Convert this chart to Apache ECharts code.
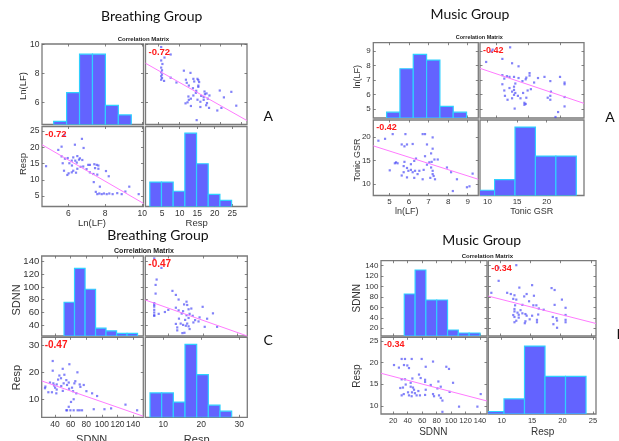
<!DOCTYPE html>
<html>
<head>
<meta charset="utf-8">
<script src="https://cdn.jsdelivr.net/npm/echarts@6/dist/echarts.min.js"></script>
<style>
  html, body { margin: 0; padding: 0; background: #fff; }
  #chart { width: 619px; height: 441px; }
</style>
</head>
<body>
<div id="chart"></div>
<script>
// ---- values ----

// Breathing group (A): Ln(LF) against Resp, one entry per subject
const baLnLF = [5.79, 6.74, 5.64, 6.36, 5.46, 6.83, 4.80, 5.64, 5.82, 5.97, 6.19, 6.27, 6.38, 6.49, 6.58,
  6.63, 6.76, 5.70, 6.06, 6.20, 6.46, 6.67, 6.81, 5.77, 6.02, 6.19, 6.27, 6.42, 5.95, 6.49, 7.08, 7.17,
  7.41, 7.54, 7.63, 7.45, 7.63, 8.04, 8.19, 6.99, 7.17, 7.36, 7.57, 7.38, 7.71, 7.49, 7.57, 7.68, 7.81,
  7.93, 8.08, 8.22, 8.40, 8.65, 8.89, 9.09, 9.30, 9.81];
const baResp = [23.8, 22.6, 20.2, 20.8, 19.2, 19.8, 14.2, 17.2, 16.5, 16.7, 15.9, 16.9, 15.9, 17.3, 16.2,
  16.6, 16.1, 15.1, 15.1, 14.4, 15.3, 14.0, 14.1, 12.8, 12.0, 12.3, 12.8, 12.2, 11.5, 13.4, 14.6, 14.6,
  14.8, 14.6, 14.4, 13.6, 13.4, 12.7, 11.1, 13.3, 12.3, 11.8, 11.6, 9.3, 7.9, 6.3, 5.6, 5.8, 5.6,
  5.8, 5.6, 5.8, 5.6, 5.9, 5.6, 6.4, 7.9, 5.6];
const baLnLFBins = [5.21, 5.91, 6.61, 7.31, 8.01, 8.71, 9.41];
const baLnLFCounts = [1, 10, 22, 22, 6, 3];
const baRespBins = [1.5, 4.83, 8.16, 11.49, 14.82, 18.15, 21.48, 24.81];
const baRespCounts = [8, 8, 5, 24, 14, 4, 2];
const baFitLower = [[4.58, 20.8], [10.07, 2.75]];
const baFitUpper = [[1.8, 8.7], [26.4, 4.77]];
const baLnLFTicks = [6, 8, 10];
const baRespTicks = [5, 10, 15, 20, 25];

// Music group (A): ln(LF) against Tonic GSR
const maLnLF = [4.44, 4.78, 5.17, 5.82, 6.70, 6.82, 7.21, 5.77, 5.63, 5.90, 6.19, 6.92, 7.21, 7.13, 6.82,
  6.36, 6.27, 5.34, 5.28, 5.42, 5.77, 5.02, 5.73, 5.90, 5.97, 6.10, 5.73, 6.19, 6.31, 6.44, 6.53, 6.75,
  6.92, 7.04, 7.16, 7.30, 7.47, 7.13, 7.21, 7.21, 7.26, 7.09, 7.33, 5.90, 5.63, 6.27, 6.70, 7.94, 8.15,
  8.45, 9.25, 8.24, 8.96, 9.09, 6.10];
const maGSR = [19.2, 19.6, 20.6, 20.6, 20.6, 20.6, 19.9, 18.0, 18.4, 18.4, 18.5, 18.4, 17.5, 16.5, 15.9,
  15.4, 14.9, 14.6, 14.4, 14.4, 14.7, 12.9, 13.8, 13.4, 12.8, 13.0, 12.5, 12.5, 12.8, 12.1, 12.8, 13.0,
  14.1, 14.6, 14.7, 15.2, 15.2, 13.5, 12.8, 12.1, 11.7, 11.3, 11.0, 11.4, 11.8, 11.3, 11.0, 13.5, 12.5,
  11.0, 12.2, 8.5, 9.3, 9.5, 14.2];
const maLnLFBins = [4.86, 5.54, 6.22, 6.90, 7.58, 8.26, 8.94];
const maLnLFCounts = [2, 17, 22, 20, 4, 2];
const maGSRBins = [7.75, 11.2, 14.65, 18.1, 21.55, 25.0];
const maGSRCounts = [2, 6, 26, 15, 15];
const maFitLower = [[4.18, 18.1], [9.54, 11.0]];
const maFitUpper = [[7.55, 7.80], [23.6, 5.38]];
const maLnLFTicks = [5, 6, 7, 8, 9];
const maGSRTicks = [10, 15, 20];

// Breathing group (C): SDNN against Resp
const bcSDNN = [37.1, 37.1, 49.9, 58.4, 45.6, 68.7, 27.7, 33.6, 37.9, 38.8, 40.1, 42.2, 36.1, 41.7, 47.7,
  51.1, 54.5, 55.4, 57.6, 61.8, 63.1, 64.8, 67.3, 71.6, 72.5, 76.8, 80.2, 87.5, 93.9, 42.2, 31.5, 27.2,
  63.9, 60.5, 57.6, 54.5, 55.4, 59.7, 63.9, 69.0, 71.6, 74.6, 89.6, 103.3, 111.8, 130.2, 145.1, 44.0,
  50.0, 58.0, 66.0, 52.0, 48.0];
const bcResp = [24.1, 20.5, 21.2, 22.9, 18.7, 19.9, 14.6, 16.1, 15.8, 15.0, 14.2, 15.4, 12.5, 12.1, 17.7,
  15.8, 17.0, 15.2, 16.1, 14.2, 12.9, 15.8, 12.1, 15.4, 14.5, 15.2, 12.9, 12.1, 11.1, 13.5, 12.5, 14.0,
  9.9, 8.9, 7.1, 5.8, 5.8, 5.8, 5.8, 5.8, 5.8, 5.8, 6.2, 6.2, 6.5, 7.9, 5.8, 17.2,
  13.0, 13.8, 16.6, 19.0, 14.8];
const bcSDNNBins = [51.6, 65.0, 78.5, 91.9, 105.3, 118.8, 132.2, 145.6];
const bcSDNNCounts = [13, 26, 18, 3, 2, 1, 1];
const bcRespBins = [6.5, 9.57, 12.64, 15.71, 18.78, 21.85, 24.92, 27.99];
const bcRespCounts = [8, 8, 5, 24, 14, 4, 2];
const bcFitLower = [[23, 16.7], [153, 3.6]];
const bcFitUpper = [[3.2, 79.5], [32.9, 22.6]];
const bcSDNNTicks = [40, 60, 80, 100, 120, 140];
const bcRespTicks = [10, 20, 30];

// Music group (D): SDNN against Resp
const mcSDNN = [21.0, 31.6, 36.2, 45.5, 59.3, 75.0, 27.8, 34.8, 39.4, 41.7, 64.9, 93.4, 97.1, 55.6, 57.9,
  31.6, 36.2, 46.4, 64.0, 64.0, 82.4, 102.7, 44.1, 37.2, 44.1, 47.3, 33.4, 48.7, 54.7, 64.9, 71.8, 81.1,
  85.7, 40.4, 45.9, 34.5, 41.7, 31.6, 52.3, 56.9, 64.0, 75.0, 83.3, 85.7, 88.0, 45.4, 98.0, 111.0,
  136.4, 141.0, 88.0, 76.4, 50.0, 29.7];
const mcResp = [19.4, 20.8, 20.8, 20.8, 20.8, 20.2, 18.8, 19.4, 19.3, 18.7, 19.0, 19.0, 18.5, 17.2, 16.4,
  16.1, 16.1, 16.3, 16.0, 15.5, 15.6, 15.3, 15.3, 14.9, 14.4, 14.2, 14.2, 13.7, 13.4, 13.7, 14.8, 14.0,
  14.4, 13.1, 13.1, 12.7, 12.4, 12.4, 12.4, 12.4, 12.5, 12.7, 12.4, 11.8, 11.2, 12.2, 13.2, 9.8,
  9.8, 12.7, 8.6, 12.2, 12.9, 14.1];
const mcSDNNBins = [35.2, 50.2, 65.1, 80.1, 95.1, 110.0, 125.0, 140.0];
const mcSDNNCounts = [14, 22, 12, 12, 2, 1, 1];
const mcRespBins = [7.01, 10.38, 13.75, 17.12, 20.49, 23.86];
const mcRespCounts = [1, 6, 27, 15, 15];
const mcFitLower = [[3, 17.5], [149.7, 11.1]];
const mcFitUpper = [[8.1, 81.7], [25.8, 29.2]];
const mcSDNNTicks = [20, 40, 60, 80, 100, 120, 140];
const mcRespTicks = [10, 15, 20, 25];

// ---- the four matrices ----
const matrices = [
  {
    title: 'Breathing Group', tag: 'A', names: ['Ln(LF)', 'Resp'], r: '-0.72',
    v1: baLnLF, v2: baResp, ticks1: baLnLFTicks, ticks2: baRespTicks, histTicks2: baRespTicks,
    range1x: [4.58, 10.07], range1y: [4.5, 10.02], range2: [1.8, 26.4], histRange2: [0.27, 29.2],
    bins1: baLnLFBins, counts1: baLnLFCounts, max1: 25.2,
    bins2: baRespBins, counts2: baRespCounts, max2: 26.2,
    fitLower: baFitLower, fitUpper: baFitUpper,
    L: {
      cols: [[42, 143.5], [145.5, 247]], rows: [[44, 124.5], [126.5, 206.5]],
      tickX: 8.5, tickY: 8.5, corr: 9.5, name: 9.5, cm: 6, titleXY: [151.7, 16.7], cmXY: [143.3, 39.3],
      xNames: [[92, 223.5], [196.7, 223.5]], yNames: [[23, 86], [23, 164]], tagXY: [268.3, 116], tagAlign: 'center'
    }
  },
  {
    title: 'Music Group', tag: 'A', names: ['ln(LF)', 'Tonic GSR'], r: '-0.42',
    v1: maLnLF, v2: maGSR, ticks1: maLnLFTicks, ticks2: maGSRTicks, histTicks2: maGSRTicks,
    range1x: [4.18, 9.54], range1y: [4.37, 9.57], range2: [7.55, 23.6], histRange2: [8.74, 26.3],
    bins1: maLnLFBins, counts1: maLnLFCounts, max1: 26.0,
    bins2: maGSRBins, counts2: maGSRCounts, max2: 28.7,
    fitLower: maFitLower, fitUpper: maFitUpper,
    L: {
      cols: [[373.3, 478.3], [480, 584]], rows: [[42.7, 118], [120, 195.5]],
      tickX: 8, tickY: 8, corr: 9, name: 9, cm: 5.5, titleXY: [470, 14], cmXY: [479.3, 37.3],
      xNames: [[406.7, 212], [531.7, 212]], yNames: [[357.5, 76.7], [357.5, 160]], tagXY: [610, 117], tagAlign: 'center'
    }
  },
  {
    title: 'Breathing Group', tag: 'C', names: ['SDNN', 'Resp'], r: '-0.47',
    v1: bcSDNN, v2: bcResp, ticks1: bcSDNNTicks, ticks2: bcRespTicks, histTicks2: bcRespTicks,
    range1x: [23, 153], range1y: [22.6, 149], range2: [3.2, 32.9], histRange2: [5.26, 32.1],
    bins1: bcSDNNBins, counts1: bcSDNNCounts, max1: 30.8,
    bins2: bcRespBins, counts2: bcRespCounts, max2: 26.3,
    fitLower: bcFitLower, fitUpper: bcFitUpper,
    L: {
      cols: [[41.7, 143.3], [145.3, 247.3]], rows: [[256, 336], [337.3, 417.3]],
      tickX: 8.5, tickY: 9.5, corr: 10, name: 11, cm: 7, titleXY: [158, 235], cmXY: [144, 250.7],
      xNames: [[91.7, 440], [196.7, 440]], yNames: [[16.5, 300], [16.5, 377.7]], tagXY: [268.3, 340.7], tagAlign: 'center'
    }
  },
  {
    title: 'Music Group', tag: 'D', names: ['SDNN', 'Resp'], r: '-0.34',
    v1: mcSDNN, v2: mcResp, ticks1: mcSDNNTicks, ticks2: mcRespTicks, histTicks2: mcRespTicks,
    range1x: [3, 149.7], range1y: [5.2, 149.6], range2: [8.1, 25.8], histRange2: [7.8, 25.5],
    bins1: mcSDNNBins, counts1: mcSDNNCounts, max1: 25.1,
    bins2: mcRespBins, counts2: mcRespCounts, max2: 30.5,
    fitLower: mcFitLower, fitUpper: mcFitUpper,
    L: {
      cols: [[381, 487], [488.3, 596]], rows: [[260.7, 336], [337.3, 414]],
      tickX: 7.5, tickY: 8, corr: 9, name: 10, cm: 6, titleXY: [481.7, 240], cmXY: [487.3, 256],
      xNames: [[433.3, 432], [542.7, 432]], yNames: [[357.5, 298.3], [357.5, 376]], tagXY: [616.5, 334], tagAlign: 'left'
    }
  }
];

const option = {
  animation: false,
  backgroundColor: '#fff',
  grid: [], xAxis: [], yAxis: [], series: [],
  graphic: { elements: [] }
};

const TEXT = '#333';
const FRAME = '#7a7a7a';
const BAR = '#6363ff';
const BAR_EDGE = '#2fd0ff';
const DOT = 'rgba(60,60,245,0.8)';
const FIT = '#ff7bff';

function valueAxis(gi, range, ticks, showLabel, position, font) {
  return {
    type: 'value', gridIndex: gi, position: position, min: range[0], max: range[1],
    axisLine: { show: false }, splitLine: { show: false },
    axisTick: { show: true, inside: true, length: 2.5, customValues: ticks, lineStyle: { color: '#666', width: 0.8 } },
    axisLabel: {
      show: showLabel, customValues: ticks, fontSize: font, color: TEXT, margin: 2.5,
      fontFamily: 'Liberation Sans', hideOverlap: false
    }
  };
}

function addX(obj) { option.xAxis.push(obj); return option.xAxis.length - 1; }
function addY(obj) { option.yAxis.push(obj); return option.yAxis.length - 1; }

function text(x, y, s, size, extra) {
  extra = extra || {};
  return {
    type: 'text', x: x, y: y, rotation: extra.rot || 0, silent: true, z: 100,
    style: {
      text: s, fontSize: size, fontFamily: extra.family || 'Liberation Sans',
      fontWeight: extra.weight || 'normal', fill: extra.color || TEXT,
      textAlign: extra.align || 'center', textVerticalAlign: extra.valign || 'middle'
    }
  };
}

function histSeries(xi, yi, bins, counts) {
  return {
    type: 'custom', xAxisIndex: xi, yAxisIndex: yi, clip: true, silent: true,
    data: counts.map((c, i) => [bins[i], bins[i + 1], c]),
    encode: { x: [0, 1], y: 2 },
    renderItem: function (params, api) {
      const p0 = api.coord([api.value(0), 0]);
      const p1 = api.coord([api.value(1), api.value(2)]);
      return {
        type: 'rect',
        shape: { x: p0[0], y: p1[1], width: p1[0] - p0[0], height: p0[1] - p1[1] },
        style: { fill: BAR, stroke: BAR_EDGE, lineWidth: 1.2 }
      };
    }
  };
}

function addMatrix(m) {
  const L = m.L;
  const base = option.grid.length;
  // panel order: top-left, top-right, bottom-left, bottom-right
  [[0, 0], [0, 1], [1, 0], [1, 1]].forEach(function (rc) {
    const c = L.cols[rc[1]], r = L.rows[rc[0]];
    option.grid.push({
      left: c[0], top: r[0], width: c[1] - c[0], height: r[1] - r[0],
      show: true, borderColor: FRAME, borderWidth: 1.3, backgroundColor: '#fff'
    });
  });
  const fx = L.tickX, fy = L.tickY;

  // top-left: histogram of the first variable
  let gi = base;
  let xi = addX(valueAxis(gi, m.range1x, m.ticks1, false, 'bottom', fx));
  addX(valueAxis(gi, m.range1x, m.ticks1, false, 'top', fx));
  addY(valueAxis(gi, m.range1y, m.ticks1, true, 'left', fy));
  addY(valueAxis(gi, m.range1y, m.ticks1, false, 'right', fy));
  let yc = addY({ type: 'value', gridIndex: gi, min: 0, max: m.max1, show: false });
  option.series.push(histSeries(xi, yc, m.bins1, m.counts1));

  // top-right: first variable against the second
  gi = base + 1;
  xi = addX(valueAxis(gi, m.range2, m.ticks2, false, 'bottom', fx));
  addX(valueAxis(gi, m.range2, m.ticks2, false, 'top', fx));
  let yi = addY(valueAxis(gi, m.range1y, m.ticks1, false, 'left', fy));
  addY(valueAxis(gi, m.range1y, m.ticks1, false, 'right', fy));
  option.series.push({
    type: 'scatter', xAxisIndex: xi, yAxisIndex: yi, symbol: 'rect', symbolSize: 2.2, silent: true,
    itemStyle: { color: DOT }, data: m.v1.map((v, i) => [m.v2[i], v])
  });
  option.series.push({
    type: 'line', xAxisIndex: xi, yAxisIndex: yi, symbol: 'none', silent: true, clip: true,
    lineStyle: { color: FIT, width: 1 }, data: m.fitUpper
  });

  // bottom-left: second variable against the first
  gi = base + 2;
  xi = addX(valueAxis(gi, m.range1x, m.ticks1, true, 'bottom', fx));
  addX(valueAxis(gi, m.range1x, m.ticks1, false, 'top', fx));
  yi = addY(valueAxis(gi, m.range2, m.ticks2, true, 'left', fy));
  addY(valueAxis(gi, m.range2, m.ticks2, false, 'right', fy));
  option.series.push({
    type: 'scatter', xAxisIndex: xi, yAxisIndex: yi, symbol: 'rect', symbolSize: 2.2, silent: true,
    itemStyle: { color: DOT }, data: m.v1.map((v, i) => [v, m.v2[i]])
  });
  option.series.push({
    type: 'line', xAxisIndex: xi, yAxisIndex: yi, symbol: 'none', silent: true, clip: true,
    lineStyle: { color: FIT, width: 1 }, data: m.fitLower
  });

  // bottom-right: histogram of the second variable
  gi = base + 3;
  xi = addX(valueAxis(gi, m.histRange2, m.histTicks2, true, 'bottom', fx));
  addX(valueAxis(gi, m.histRange2, m.histTicks2, false, 'top', fx));
  yc = addY({ type: 'value', gridIndex: gi, min: 0, max: m.max2, show: false });
  option.series.push(histSeries(xi, yc, m.bins2, m.counts2));

  // texts
  const g = option.graphic.elements;
  g.push(text(L.titleXY[0], L.titleXY[1], m.title, 14, { family: 'Lato', color: '#111' }));
  g.push(text(L.cmXY[0], L.cmXY[1], 'Correlation Matrix', L.cm, { weight: 'bold', color: '#222' }));
  g.push(text(L.tagXY[0], L.tagXY[1], m.tag, 14, { family: 'Lato', color: '#111', align: L.tagAlign }));
  g.push(text(L.cols[1][0] + 3, L.rows[0][0] + 3, m.r, L.corr, { weight: 'bold', color: '#ff1a1a', align: 'left', valign: 'top' }));
  g.push(text(L.cols[0][0] + 3, L.rows[1][0] + 3, m.r, L.corr, { weight: 'bold', color: '#ff1a1a', align: 'left', valign: 'top' }));
  m.names.forEach(function (n, i) {
    g.push(text(L.xNames[i][0], L.xNames[i][1], n, L.name));
    g.push(text(L.yNames[i][0], L.yNames[i][1], n, L.name, { rot: Math.PI / 2 }));
  });
}

matrices.forEach(addMatrix);

const chart = echarts.init(document.getElementById('chart'), null, { renderer: 'canvas' });
chart.setOption(option);
</script>
</body>
</html>
